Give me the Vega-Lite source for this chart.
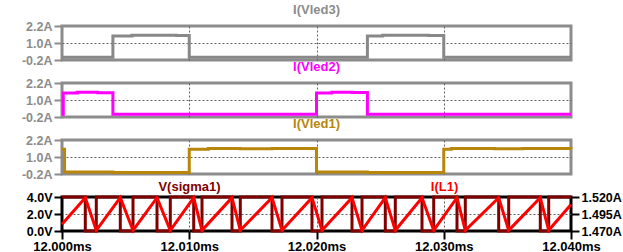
{
  "$schema": "https://vega.github.io/schema/vega-lite/v6.json",
  "padding": {"left": 19, "top": 2, "right": 0, "bottom": 0},
  "spacing": 23,
  "bounds": "flush",
  "config": {
    "font": "Liberation Sans",
    "view": {"stroke": "#8c8c8c", "strokeWidth": 3},
    "title": {"fontSize": 13, "fontWeight": "bold", "anchor": "middle", "offset": 3},
    "axis": {
      "labelFont": "Liberation Sans", "labelFontWeight": "bold", "labelFontSize": 12.5,
      "tickSize": 8, "tickWidth": 2, "labelPadding": 2,
      "gridColor": "#606060", "gridDash": [2, 2], "gridWidth": 1
    }
  },
  "datasets": {
    "vled3": [
      {"t": 12.0, "i": 0.0}, {"t": 12.004, "i": 1.5}, {"t": 12.0055, "i": 1.54}, {"t": 12.0075, "i": 1.55},
      {"t": 12.009, "i": 1.53}, {"t": 12.01, "i": 0.0}, {"t": 12.024, "i": 1.5}, {"t": 12.0252, "i": 1.54},
      {"t": 12.027, "i": 1.55}, {"t": 12.0288, "i": 1.53}, {"t": 12.03, "i": 0.0}, {"t": 12.04, "i": 0.0}
    ],
    "vled2": [
      {"t": 12.0, "i": 0.0}, {"t": 12.0001, "i": 1.5}, {"t": 12.0012, "i": 1.55}, {"t": 12.0028, "i": 1.52},
      {"t": 12.004, "i": 0.0}, {"t": 12.02, "i": 1.5}, {"t": 12.0212, "i": 1.55}, {"t": 12.0228, "i": 1.53},
      {"t": 12.024, "i": 0.0}, {"t": 12.04, "i": 0.0}
    ],
    "vled1": [
      {"t": 12.0, "i": 1.55}, {"t": 12.0002, "i": -0.05}, {"t": 12.004, "i": -0.1}, {"t": 12.01, "i": 1.55},
      {"t": 12.0115, "i": 1.6}, {"t": 12.014, "i": 1.58}, {"t": 12.0165, "i": 1.6}, {"t": 12.02, "i": -0.05},
      {"t": 12.024, "i": -0.1}, {"t": 12.03, "i": 1.55}, {"t": 12.0306, "i": 1.6}, {"t": 12.034, "i": 1.58},
      {"t": 12.0362, "i": 1.6}, {"t": 12.04, "i": 1.58}
    ],
    "sigma": [
      {"t": 12.0, "v": 4}, {"t": 12.001831, "v": 0}, {"t": 12.002695, "v": 4}, {"t": 12.004582, "v": 0},
      {"t": 12.00558, "v": 4}, {"t": 12.007466, "v": 0}, {"t": 12.008511, "v": 4}, {"t": 12.01035, "v": 0},
      {"t": 12.011002, "v": 4}, {"t": 12.01336, "v": 0}, {"t": 12.014012, "v": 4}, {"t": 12.016503, "v": 0},
      {"t": 12.017289, "v": 4}, {"t": 12.019646, "v": 0}, {"t": 12.020432, "v": 4}, {"t": 12.02279, "v": 0},
      {"t": 12.023576, "v": 4}, {"t": 12.025407, "v": 0}, {"t": 12.026193, "v": 4}, {"t": 12.028291, "v": 0},
      {"t": 12.02921, "v": 4}, {"t": 12.031041, "v": 0}, {"t": 12.031694, "v": 4}, {"t": 12.034318, "v": 0},
      {"t": 12.035104, "v": 4}, {"t": 12.037587, "v": 0}, {"t": 12.038248, "v": 4}, {"t": 12.04, "v": 4}
    ],
    "il1": [
      {"t": 12.0, "i": 1.48}, {"t": 12.001831, "i": 1.519}, {"t": 12.002695, "i": 1.471}, {"t": 12.004582, "i": 1.519},
      {"t": 12.00558, "i": 1.471}, {"t": 12.007466, "i": 1.519}, {"t": 12.008511, "i": 1.471}, {"t": 12.01035, "i": 1.519},
      {"t": 12.011002, "i": 1.471}, {"t": 12.01336, "i": 1.519}, {"t": 12.014012, "i": 1.471}, {"t": 12.016503, "i": 1.519},
      {"t": 12.017289, "i": 1.471}, {"t": 12.019646, "i": 1.519}, {"t": 12.020432, "i": 1.471}, {"t": 12.02279, "i": 1.519},
      {"t": 12.023576, "i": 1.471}, {"t": 12.025407, "i": 1.519}, {"t": 12.026193, "i": 1.471}, {"t": 12.028291, "i": 1.519},
      {"t": 12.02921, "i": 1.471}, {"t": 12.031041, "i": 1.519}, {"t": 12.031694, "i": 1.471}, {"t": 12.034318, "i": 1.519},
      {"t": 12.035104, "i": 1.471}, {"t": 12.037587, "i": 1.519}, {"t": 12.038248, "i": 1.471}, {"t": 12.04, "i": 1.509}
    ]
  },
  "vconcat": [
    {
      "width": 509, "height": 34,
      "title": {"text": "I(Vled3)", "color": "#8c8c8c"},
      "data": {"name": "vled3"},
      "mark": {"type": "line", "interpolate": "step-after", "color": "#888888", "strokeWidth": 3},
      "encoding": {
        "x": {"field": "t", "type": "quantitative", "scale": {"domain": [12.0, 12.04], "nice": false, "zero": false},
              "axis": {"title": null, "labels": false, "ticks": false, "domain": false, "grid": true, "values": [12.01, 12.02, 12.03]}},
        "y": {"field": "i", "type": "quantitative", "scale": {"domain": [-0.2, 2.2], "nice": false, "zero": false},
              "axis": {"title": null, "domain": false, "values": [-0.2, 1.0, 2.2],
                       "labelExpr": "datum.value < 0 ? '-0.2A' : format(datum.value, '.1f') + 'A'",
                       "labelColor": "#8c8c8c", "tickColor": "#8c8c8c", "grid": true,
                       "gridOpacity": {"condition": {"test": "abs(datum.value - 1) < 0.01", "value": 1}, "value": 0}}}
      }
    },
    {
      "width": 509, "height": 34,
      "title": {"text": "I(Vled2)", "color": "#ff00ff"},
      "data": {"name": "vled2"},
      "mark": {"type": "line", "interpolate": "step-after", "color": "#ff00ff", "strokeWidth": 3},
      "encoding": {
        "x": {"field": "t", "type": "quantitative", "scale": {"domain": [12.0, 12.04], "nice": false, "zero": false},
              "axis": {"title": null, "labels": false, "ticks": false, "domain": false, "grid": true, "values": [12.01, 12.02, 12.03]}},
        "y": {"field": "i", "type": "quantitative", "scale": {"domain": [-0.2, 2.2], "nice": false, "zero": false},
              "axis": {"title": null, "domain": false, "values": [-0.2, 1.0, 2.2],
                       "labelExpr": "datum.value < 0 ? '-0.2A' : format(datum.value, '.1f') + 'A'",
                       "labelColor": "#8c8c8c", "tickColor": "#8c8c8c", "grid": true,
                       "gridOpacity": {"condition": {"test": "abs(datum.value - 1) < 0.01", "value": 1}, "value": 0}}}
      }
    },
    {
      "width": 509, "height": 34,
      "title": {"text": "I(Vled1)", "color": "#b8860b"},
      "data": {"name": "vled1"},
      "mark": {"type": "line", "interpolate": "step-after", "color": "#b8860b", "strokeWidth": 3},
      "encoding": {
        "x": {"field": "t", "type": "quantitative", "scale": {"domain": [12.0, 12.04], "nice": false, "zero": false},
              "axis": {"title": null, "labels": false, "ticks": false, "domain": false, "grid": true, "values": [12.01, 12.02, 12.03]}},
        "y": {"field": "i", "type": "quantitative", "scale": {"domain": [-0.2, 2.2], "nice": false, "zero": false},
              "axis": {"title": null, "domain": false, "values": [-0.2, 1.0, 2.2],
                       "labelExpr": "datum.value < 0 ? '-0.2A' : format(datum.value, '.1f') + 'A'",
                       "labelColor": "#8c8c8c", "tickColor": "#8c8c8c", "grid": true,
                       "gridOpacity": {"condition": {"test": "abs(datum.value - 1) < 0.01", "value": 1}, "value": 0}}}
      }
    },
    {
      "width": 509, "height": 34,
      "view": {"stroke": "#000000", "strokeWidth": 3},
      "layer": [
        {
          "data": {"name": "sigma"},
          "mark": {"type": "line", "interpolate": "step-after", "color": "#800000", "strokeWidth": 3},
          "encoding": {
            "x": {"field": "t", "type": "quantitative", "scale": {"domain": [12.0, 12.04], "nice": false, "zero": false},
                  "axis": {"title": null, "domain": false, "values": [12.0, 12.01, 12.02, 12.03, 12.04],
                           "labelExpr": "format(datum.value, '.3f') + 'ms'", "labelFontSize": 13, "labelColor": "#000000",
                           "labelPadding": 1, "labelFlush": false, "tickColor": "#000000", "grid": true,
                           "gridOpacity": {"condition": {"test": "datum.value > 12.005 && datum.value < 12.035", "value": 1}, "value": 0}}},
            "y": {"field": "v", "type": "quantitative", "scale": {"domain": [0, 4], "nice": false, "zero": false},
                  "axis": {"orient": "left", "domain": false, "values": [0, 2, 4],
                           "labelExpr": "format(datum.value, '.1f') + 'V'", "labelColor": "#000000", "tickColor": "#000000",
                           "grid": false, "title": "V(sigma1)", "titleAngle": 0, "titleX": 127, "titleY": -11,
                           "titleAlign": "center", "titleBaseline": "middle", "titleColor": "#800000",
                           "titleFontSize": 13, "titleFontWeight": "bold", "titleFont": "Liberation Sans"}}
          }
        },
        {
          "data": {"name": "il1"},
          "mark": {"type": "line", "color": "#ff0000", "strokeWidth": 3},
          "encoding": {
            "x": {"field": "t", "type": "quantitative"},
            "y": {"field": "i", "type": "quantitative", "scale": {"domain": [1.47, 1.52], "nice": false, "zero": false},
                  "axis": {"orient": "right", "domain": false, "values": [1.47, 1.495, 1.52],
                           "labelExpr": "format(datum.value, '.3f') + 'A'", "labelColor": "#000000", "tickColor": "#000000",
                           "grid": true,
                           "gridOpacity": {"condition": {"test": "abs(datum.value - 1.495) < 0.001", "value": 1}, "value": 0},
                           "title": "I(L1)", "titleAngle": 0, "titleX": -127, "titleY": -11,
                           "titleAlign": "center", "titleBaseline": "middle", "titleColor": "#ff0000",
                           "titleFontSize": 13, "titleFontWeight": "bold", "titleFont": "Liberation Sans"}}
          }
        }
      ],
      "resolve": {"scale": {"y": "independent"}}
    }
  ]
}
